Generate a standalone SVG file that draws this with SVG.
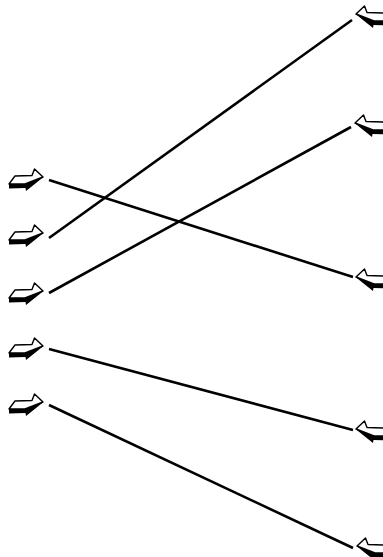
<svg xmlns="http://www.w3.org/2000/svg" width="383" height="557" viewBox="0 0 383 557">
<style>
.bg{fill:#fff}
.face{fill:#fff;stroke:#000;stroke-width:1.4;stroke-linejoin:round}
.side{fill:#000}
.conn line{stroke:#000;stroke-width:2.6;stroke-linecap:butt}
</style>
<defs>
<g id="arr">
<path class="side" d="M1,15.5 L17,15.5 L35.5,9 L18,23 L17.5,20 L1,20.5 Z"/>
<path class="face" d="M1,16 L7,8 L24,7.5 L26.5,1 L35,9 L17,16 Z"/>
</g>
</defs>
<rect class="bg" width="383" height="557"/>
<g id="L1"><use href="#arr" transform="translate(8,168)"/></g>
<g id="L2"><use href="#arr" transform="translate(8,224)"/></g>
<g id="L3"><use href="#arr" transform="translate(8,282)"/></g>
<g id="L4"><use href="#arr" transform="translate(8,337)"/></g>
<g id="L5"><use href="#arr" transform="translate(8,393)"/></g>
<g id="R1"><use href="#arr" transform="translate(391,5) scale(-1,1)"/></g>
<g id="R2"><use href="#arr" transform="translate(390,114) scale(-1,1)"/></g>
<g id="R3"><use href="#arr" transform="translate(391,268) scale(-1,1)"/></g>
<g id="R4"><use href="#arr" transform="translate(391,420) scale(-1,1)"/></g>
<g id="R5"><use href="#arr" transform="translate(392,537) scale(-1,1)"/></g>
<g class="conn">
<line x1="49" y1="180" x2="353" y2="277"/>
<line x1="49" y1="238" x2="352" y2="20"/>
<line x1="49" y1="293" x2="351" y2="127"/>
<line x1="49" y1="349" x2="353" y2="430"/>
<line x1="49" y1="405" x2="353" y2="548"/>
</g>
</svg>
